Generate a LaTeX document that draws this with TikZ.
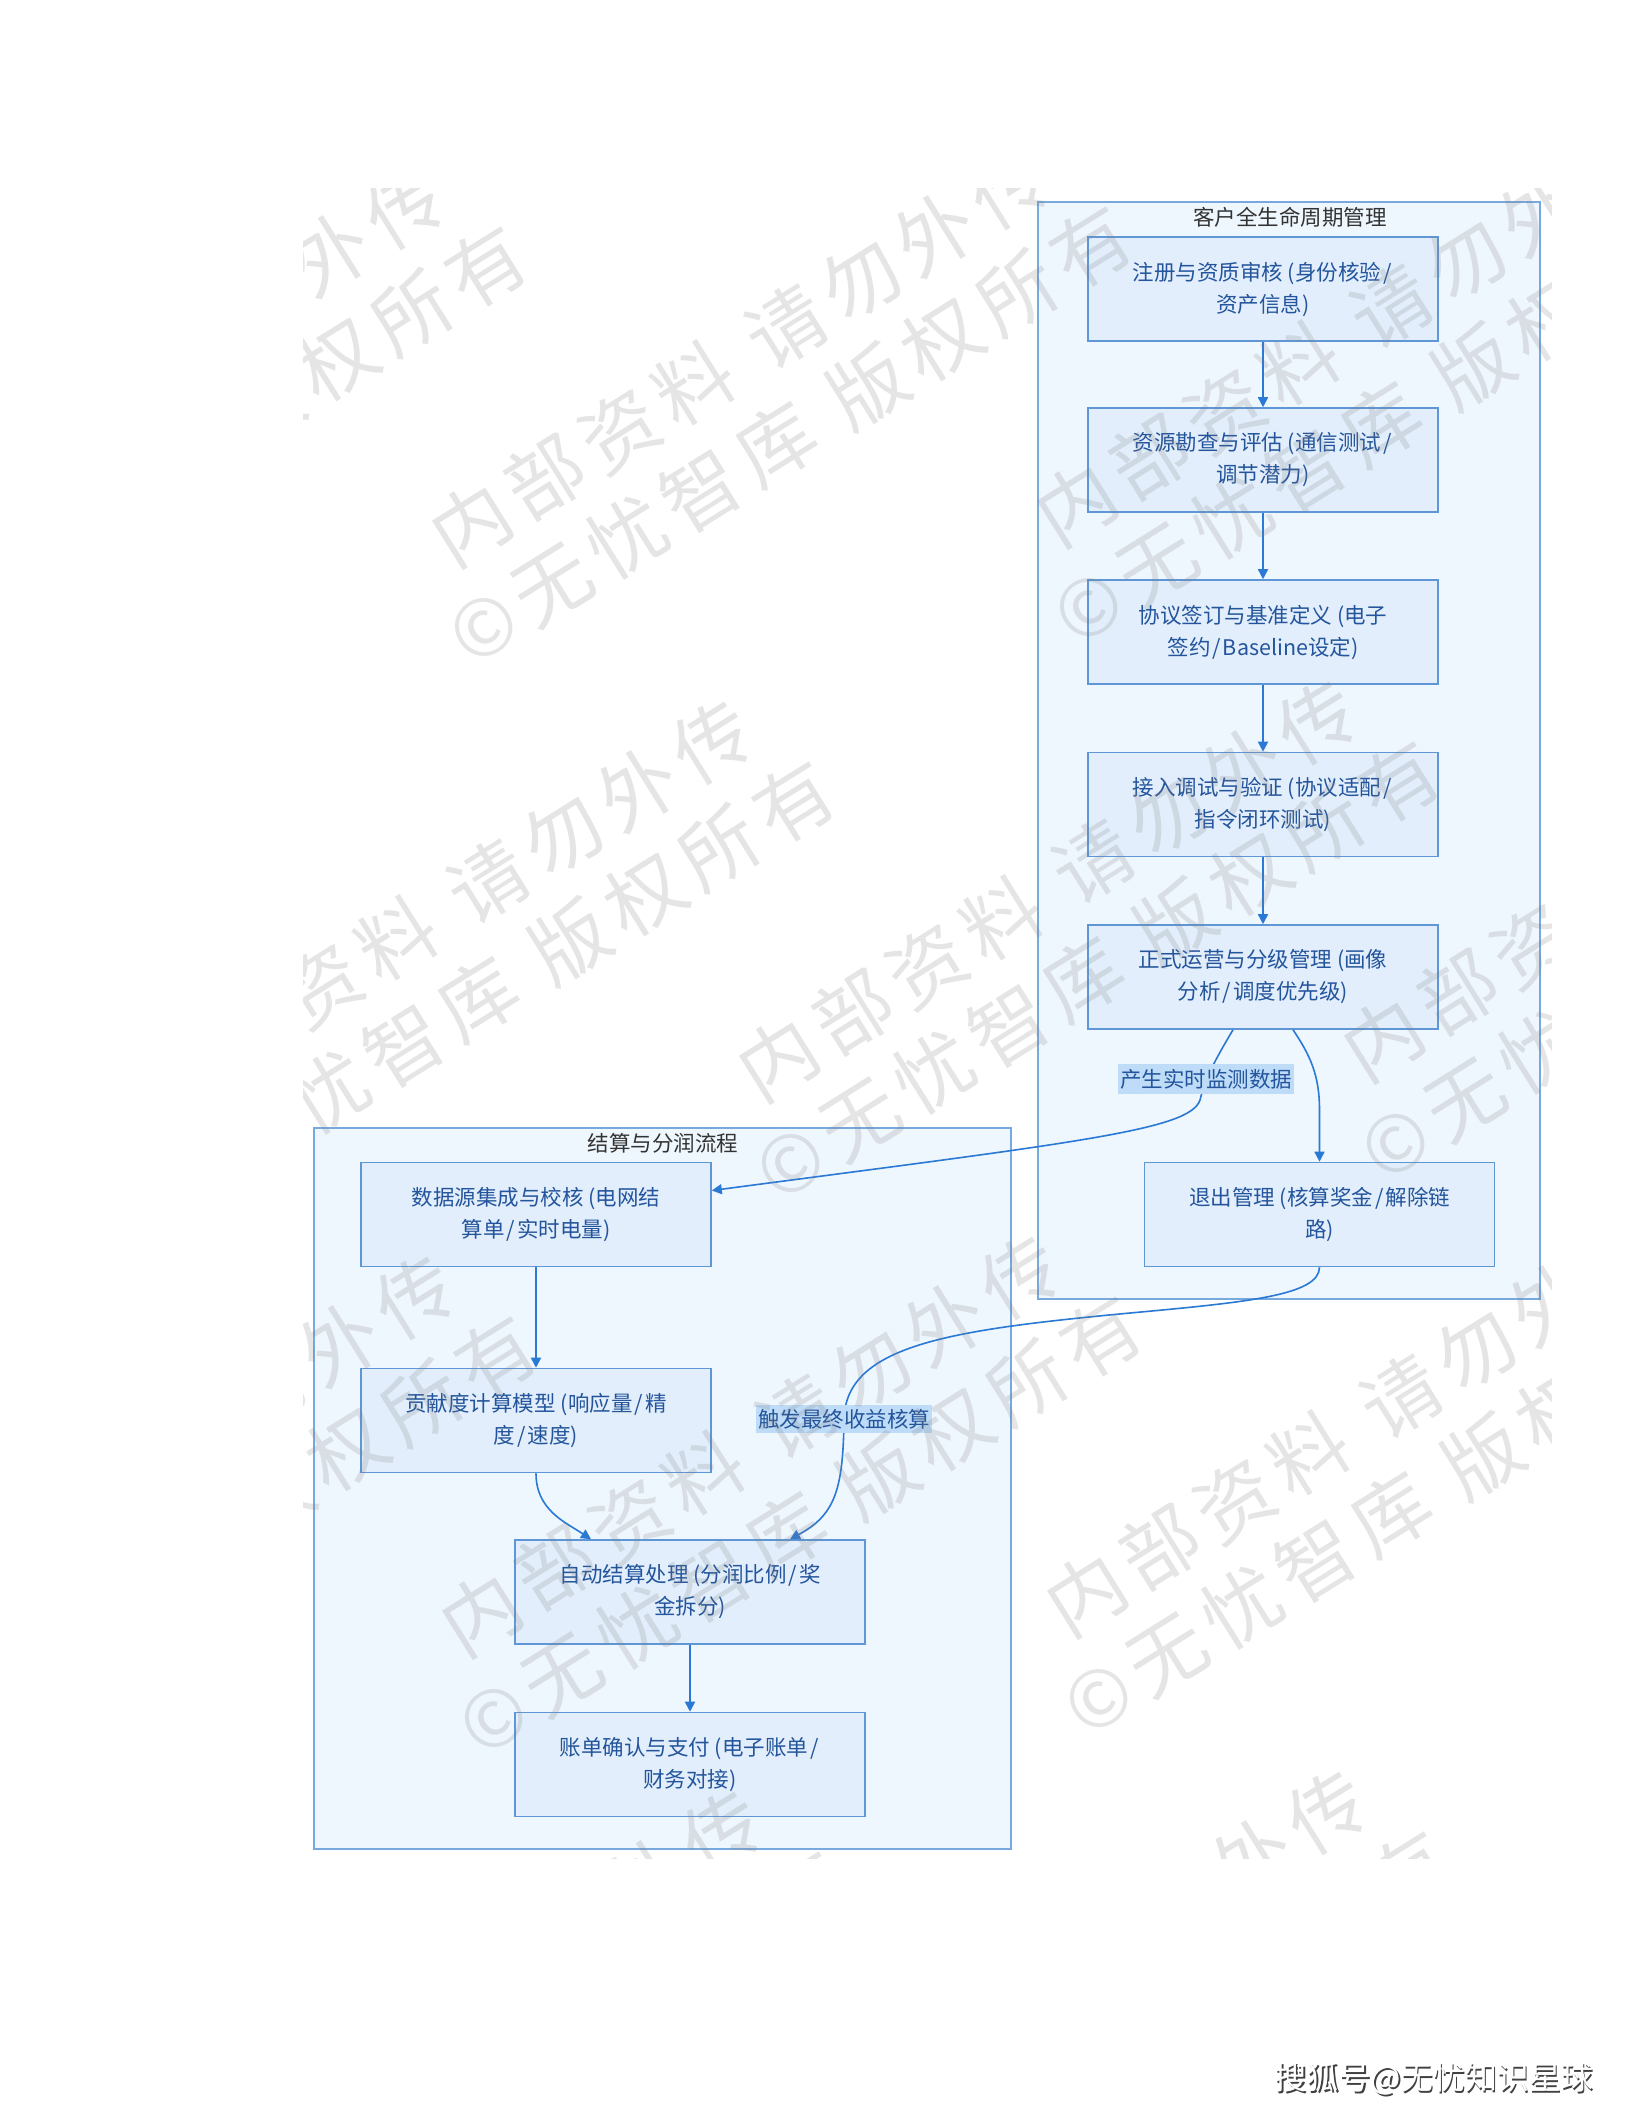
\documentclass[tikz,border=0pt]{standalone}
\usepackage{fontspec}
\setmainfont{Noto Sans CJK SC}
\usetikzlibrary{calc,arrows.meta}
\definecolor{clfill}{HTML}{EEF6FE}
\definecolor{clline}{HTML}{78A9DE}
\definecolor{ndfill}{HTML}{E2EEFB}
\definecolor{ndline}{HTML}{5F97D6}
\definecolor{ndtext}{HTML}{24559C}
\definecolor{edgec}{HTML}{2A79D4}
\definecolor{lbfill}{HTML}{BEDCF8}
\definecolor{ttl}{HTML}{333333}
\newcommand\wk{\kern10pt}
\newcommand\wsp{\kern30pt}
\newcommand\slsep{\kern2pt/\kern2pt}
\newcommand\wmtext{内\wk 部\wk 资\wk 料\wsp 请\wk 勿\wk 外\wk 传\\©\wk 无\wk 忧\wk 智\wk 库\wsp 版\wk 权\wk 所\wk 有}
\begin{document}
\begin{tikzpicture}[x=1pt,y=-1pt,
  cluster/.style={draw=clline,fill=clfill,line width=1.6pt,inner sep=0pt},
  cltitle/.style={text=ttl,font=\fontsize{21.5}{26}\selectfont,inner sep=0pt},
  proc/.style={draw=ndline,fill=ndfill,line width=1.6pt,minimum width=350pt,minimum height=104pt,align=center,text=ndtext,font=\fontsize{21.5}{32}\selectfont,inner sep=0pt},
  edge/.style={draw=edgec,line width=1.6pt,-{Triangle[length=10pt,width=10pt]}},
  elabel/.style={fill=lbfill,text=ndtext,font=\fontsize{21.5}{26}\selectfont,inner xsep=2pt,inner ysep=4.5pt},
  wmark/.style={rotate=32,align=center,text=black!50,text opacity=0.2,font=\fontsize{78}{94}\selectfont,inner sep=0pt},
]
\path[use as bounding box,fill=white] (0,0) rectangle (1632,2112);

% clusters
\node[cluster,minimum width=502pt,minimum height=1097pt] (cr) at (1289,750.5) {};
\node[cluster,minimum width=697pt,minimum height=721pt] (cl) at (662.5,1488.5) {};
\node[cltitle] (tr) at (1290,217) {客户全生命周期管理};
\node[cltitle] (tl) at (663,1143) {结算与分润流程};

% right nodes
\node[proc] (n1) at (1263,289) {注册与资质审核 (身份核验\slsep\\资产信息)};
\node[proc] (n2) at (1263,460) {资源勘查与评估 (通信测试\slsep\\调节潜力)};
\node[proc] (n3) at (1263,632) {协议签订与基准定义 (电子\\签约\slsep Baseline设定)};
\node[proc] (n4) at (1263,804.5) {接入调试与验证 (协议适配\slsep\\指令闭环测试)};
\node[proc] (n5) at (1263,977) {正式运营与分级管理 (画像\\分析\slsep 调度优先级)};
\node[proc] (ex) at (1319.5,1214.5) {退出管理 (核算奖金\slsep 解除链\\路)};

% left nodes
\node[proc] (ds) at (536,1214.5) {数据源集成与校核 (电网结\\算单\slsep 实时电量)};
\node[proc] (gx) at (536,1420.5) {贡献度计算模型 (响应量\slsep 精\\度\slsep 速度)};
\node[proc] (au) at (690,1592) {自动结算处理 (分润比例\slsep 奖\\金拆分)};
\node[proc] (bl) at (690,1764.5) {账单确认与支付 (电子账单\slsep\\财务对接)};

% edges
\draw[edge] (n1.south) -- (n2.north);
\draw[edge] (n2.south) -- (n3.north);
\draw[edge] (n3.south) -- (n4.north);
\draw[edge] (n4.south) -- (n5.north);
\draw[edge] ($(n5.south)+(30,0)$) .. controls (1310,1055) and (1319.5,1075) .. (1319.5,1110) -- (ex.north);
\draw[edge] ($(n5.south)+(-30,0)$) .. controls (1212,1065) and (1205,1080) .. (1200,1100) .. controls (1190,1130) and (1080,1142) .. ($(ds.east)+(0,-24)$);
\draw[edge] (ds.south) -- (gx.north);
\draw[edge] (gx.south) .. controls (536,1510) and (565,1522) .. ($(au.north)+(-99,0)$);
\draw[edge] (ex.south) .. controls (1319,1295) and (1250,1302) .. (1130,1313) .. controls (950,1330) and (845,1345) .. (844,1420) .. controls (843,1490) and (835,1515) .. ($(au.north)+(100,0)$);
\draw[edge] (au.south) -- (bl.north);

% edge labels
\node[elabel] (l1) at (1206,1079) {产生实时监测数据};
\node[elabel] (l2) at (844,1419) {触发最终收益核算};

% watermark tiles
\begin{scope}
\clip (303,188) rectangle (1551,1858);
\node[wmark] (w1) at (160,415) {\wmtext};
\node[wmark] (w2) at (765,395) {\wmtext};
\node[wmark] (w3) at (1370,375) {\wmtext};
\node[wmark] (w5) at (467.5,950) {\wmtext};
\node[wmark] (w6) at (1072.5,930) {\wmtext};
\node[wmark] (w7) at (1677.5,910) {\wmtext};
\node[wmark] (w8) at (170,1505) {\wmtext};
\node[wmark] (w9) at (775,1485) {\wmtext};
\node[wmark] (w10) at (1380,1465) {\wmtext};
\node[wmark] (w12) at (477.5,2040) {\wmtext};
\node[wmark] (w13) at (1082.5,2020) {\wmtext};
\end{scope}

% corner watermark
\node[font=\fontsize{32}{36}\selectfont,text=black!75,inner sep=0pt] (shs) at (1435.5,2080.5) {搜狐号@无忧知识星球};
\node[font=\fontsize{32}{36}\selectfont,text=white,inner sep=0pt] (shw) at (1434,2079) {搜狐号@无忧知识星球};
\end{tikzpicture}
\end{document}
